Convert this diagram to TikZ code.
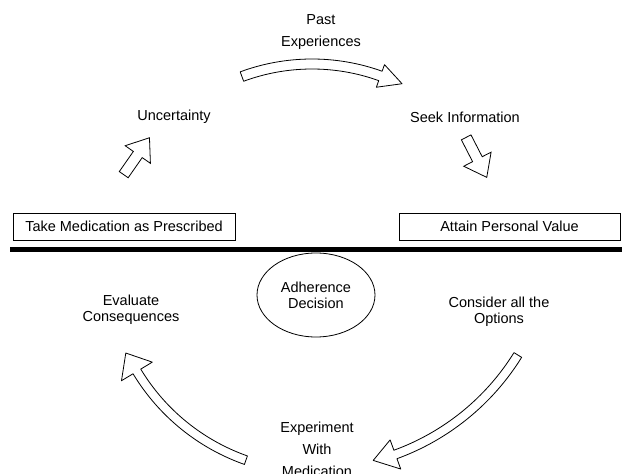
\documentclass[tikz,border=0pt]{standalone}
\usepackage{fontspec}
\setmainfont{Liberation Sans}
\usepackage{tikz}
\usetikzlibrary{calc,shapes.arrows,shapes.geometric}

\begin{document}
\begin{tikzpicture}[x=1pt, y=1pt,
    every node/.style={font=\fontsize{14.5}{16}\selectfont, inner sep=0pt},
    box/.style={draw, rectangle, line width=0.8pt, minimum height=27pt, align=center},
    bigarrow/.style={draw, line width=0.8pt, line join=round},
    smallarrow/.style={single arrow, draw, line width=0.8pt, inner ysep=5pt, minimum height=45pt,
        single arrow head extend=10pt, single arrow tip angle=74, anchor=tail}]
        \useasboundingbox (0,0) rectangle (622,474);

        % Past Experiences
        \node[align=center] (past) at (321,442) {Past\\[6pt]Experiences};

        % Uncertainty
        \node (uncert) at (174,357) {Uncertainty};

        % Seek Information
        \node (seek) at (465,357) {Seek Information};

        % Take Medication as Prescribed
        \node[box, minimum width=222pt] (take) at (124,247.5) {Take Medication as Prescribed};

        % Attain Personal Value
        \node[box, minimum width=221pt] (attain) at (509.5,247.5) {Attain Personal Value};

        % Divider
        \draw[line width=5pt] (10,224) -- (622,224);

        % Adherence Decision
        \node[draw, ellipse, line width=0.8pt, minimum width=118pt, minimum height=84pt, align=center] (decision) at (316,179) {Adherence\\Decision};

        % Evaluate Consequences
        \node[align=center] (evaluate) at (131,164) {Evaluate\\Consequences};

        % Consider all the Options
        \node[align=center] (consider) at (499,162.5) {Consider all the\\Options};

        % Experiment With Medication
        \node[align=center] (experiment) at (317,25) {Experiment\\[6pt]With\\[6pt]Medication};

        % Straight arrows
        \node[smallarrow, rotate=55.1] (uarrow) at (123.5,299) {};
        \node[smallarrow, rotate=-62.8] (sarrow) at (466,337) {};

        % Curved arrows
        \coordinate (ctop) at (312,208);
        \draw[bigarrow] ($(ctop)+(110.3:207pt)$) arc[start angle=110.3, end angle=70.2, radius=207pt]
            -- ($(ctop)+(70.2:214pt)$) -- ($(ctop)+(70.2:202pt)+(-19.8:23pt)$)
            -- ($(ctop)+(70.2:190pt)$) -- ($(ctop)+(70.2:197pt)$)
            arc[start angle=70.2, end angle=110.3, radius=197pt] -- cycle;

        \coordinate (cright) at (313,246);
        \draw[bigarrow] ($(cright)+(-31.8:245.5pt)$) arc[start angle=-31.8, end angle=-70, radius=245.5pt]
            -- ($(cright)+(-70:256.5pt)$) -- ($(cright)+(-70:241pt)+(-165:23pt)$)
            -- ($(cright)+(-70:225.5pt)$) -- ($(cright)+(-70:236.5pt)$)
            arc[start angle=-70, end angle=-31.8, radius=236.5pt] -- cycle;

        \coordinate (cleft) at (315,210);
        \draw[bigarrow] ($(cleft)+(250.6:212.5pt)$) arc[start angle=250.6, end angle=211.1, radius=212.5pt]
            -- ($(cleft)+(211.1:226pt)$) -- ($(cleft)+(211.1:208pt)+(121.1:21.5pt)$)
            -- ($(cleft)+(211.1:190pt)$) -- ($(cleft)+(211.1:203.5pt)$)
            arc[start angle=211.1, end angle=250.6, radius=203.5pt] -- cycle;
    \end{tikzpicture}
\end{document}
